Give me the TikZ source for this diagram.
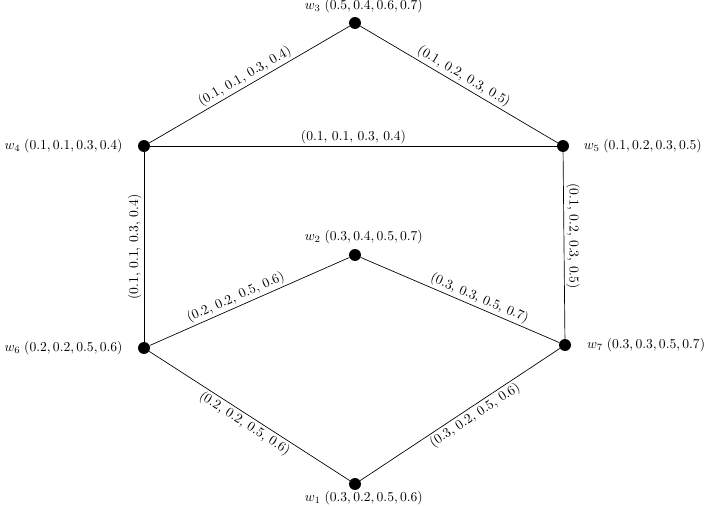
\documentclass[tikz,border=0pt]{standalone}
\begin{document}
\begin{tikzpicture}[x=0.735pt,y=-0.735pt,
  vtx/.style={circle,fill=black,inner sep=0pt,minimum size=8.8pt},
  edge/.style={line width=0.5pt},
  elab/.style={inner sep=1.5pt},
  nlab/.style={label={[inner sep=0pt,label distance=#1]}},
  every label/.style={inner sep=0pt}]
\useasboundingbox (0,0) rectangle (710,505);
\node[vtx,label={[label distance=2.5pt,xshift=6.5pt]above:$w_3\;(0.5, 0.4, 0.6, 0.7)$}] (w3) at (355,23) {};
\node[vtx,label={[label distance=11pt]left:$w_4\;(0.1, 0.1, 0.3, 0.4)$}] (w4) at (144,146) {};
\node[vtx,label={[label distance=10.5pt]right:$w_5\;(0.1, 0.2, 0.3, 0.5)$}] (w5) at (563,146) {};
\node[vtx,label={[label distance=3.5pt,xshift=6.5pt]above:$w_2\;(0.3, 0.4, 0.5, 0.7)$}] (w2) at (355,255) {};
\node[vtx,label={[label distance=11pt]left:$w_6\;(0.2, 0.2, 0.5, 0.6)$}] (w6) at (144,348) {};
\node[vtx,label={[label distance=11.5pt]right:$w_7\;(0.3, 0.3, 0.5, 0.7)$}] (w7) at (565,345) {};
\node[vtx,label={[label distance=0.5pt,xshift=6.5pt]below:$w_1\;(0.3, 0.2, 0.5, 0.6)$}] (w1) at (355,484) {};
\draw[edge] (w4) -- node[elab,sloped,above] {(0.1, 0.1, 0.3, 0.4)} (w3);
\draw[edge] (w3) -- node[elab,sloped,above] {(0.1, 0.2, 0.3, 0.5)} (w5);
\draw[edge] (w4) -- node[elab,above] {(0.1, 0.1, 0.3, 0.4)} (w5);
\draw[edge] (w6) -- node[elab,rotate=90,anchor=south] {(0.1, 0.1, 0.3, 0.4)} (w4);
\draw[edge] (w5) -- node[elab,rotate=-90,anchor=south,pos=0.45] {(0.1, 0.2, 0.3, 0.5)} (w7);
\draw[edge] (w6) -- node[elab,sloped,above,pos=0.45] {(0.2, 0.2, 0.5, 0.6)} (w2);
\draw[edge] (w2) -- node[elab,sloped,above,pos=0.58] {(0.3, 0.3, 0.5, 0.7)} (w7);
\draw[edge] (w6) -- node[elab,sloped,below] {(0.2, 0.2, 0.5, 0.6)} (w1);
\draw[edge] (w1) -- node[elab,sloped,below,pos=0.55] {(0.3, 0.2, 0.5, 0.6)} (w7);
\end{tikzpicture}
\end{document}
